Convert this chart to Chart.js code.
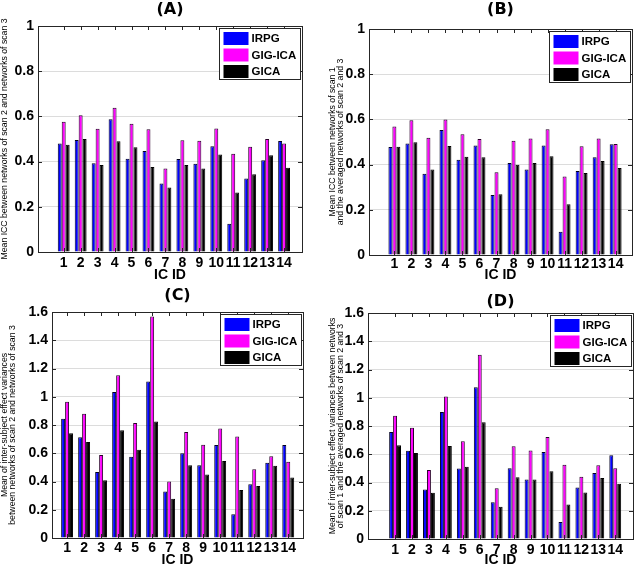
<!DOCTYPE html>
<html>
<head>
<meta charset="utf-8">
<script src="https://cdn.jsdelivr.net/npm/chart.js@4.4.1/dist/chart.umd.min.js"></script>
<style>
  body { margin: 0; background: #fff; }
  #wrap { position: relative; width: 635px; height: 569px; background: #fff; }
  #wrap canvas { position: absolute; }
</style>
</head>
<body>
<div id="wrap">
  <canvas id="chartA" width="317" height="284" style="left:0px;top:0px"></canvas>
  <canvas id="chartB" width="318" height="284" style="left:317px;top:0px"></canvas>
  <canvas id="chartC" width="317" height="285" style="left:0px;top:284px"></canvas>
  <canvas id="chartD" width="318" height="285" style="left:317px;top:284px"></canvas>
</div>
<script>
// IC IDs on the x axis
const icIds = [1, 2, 3, 4, 5, 6, 7, 8, 9, 10, 11, 12, 13, 14];
const seriesNames = ['IRPG', 'GIG-ICA', 'GICA'];

// y tick labels
const iccTicks = [0, 0.2, 0.4, 0.6, 0.8, 1];
const varTicks = [0, 0.2, 0.4, 0.6, 0.8, 1, 1.2, 1.4, 1.6];

// (A) mean ICC, scan 2 vs scan 3
const iccA_irpg   = [0.480, 0.496, 0.393, 0.587, 0.413, 0.447, 0.303, 0.412, 0.390, 0.468, 0.125, 0.325, 0.406, 0.491];
const iccA_gigica = [0.576, 0.605, 0.545, 0.638, 0.567, 0.543, 0.370, 0.494, 0.492, 0.546, 0.435, 0.466, 0.500, 0.480];
const iccA_gica   = [0.475, 0.500, 0.385, 0.490, 0.463, 0.376, 0.285, 0.385, 0.370, 0.431, 0.263, 0.344, 0.428, 0.373];

// (B) mean ICC, scan 1 vs averaged scan 2 and 3
const iccB_irpg   = [0.478, 0.493, 0.359, 0.553, 0.421, 0.484, 0.265, 0.407, 0.378, 0.484, 0.103, 0.372, 0.432, 0.490];
const iccB_gigica = [0.569, 0.596, 0.519, 0.600, 0.534, 0.513, 0.366, 0.506, 0.516, 0.556, 0.347, 0.481, 0.515, 0.491];
const iccB_gica   = [0.479, 0.499, 0.378, 0.482, 0.435, 0.432, 0.269, 0.399, 0.407, 0.437, 0.225, 0.363, 0.416, 0.385];

// (C) inter-subject effect variances, scan 2 vs scan 3
const varC_irpg   = [0.845, 0.713, 0.468, 1.033, 0.576, 1.108, 0.329, 0.600, 0.515, 0.659, 0.169, 0.381, 0.532, 0.659];
const varC_gigica = [0.965, 0.880, 0.588, 1.153, 0.814, 1.569, 0.400, 0.751, 0.661, 0.776, 0.718, 0.487, 0.579, 0.539];
const varC_gica   = [0.741, 0.680, 0.409, 0.762, 0.624, 0.824, 0.278, 0.515, 0.449, 0.546, 0.339, 0.369, 0.511, 0.428];

// (D) inter-subject effect variances, scan 1 vs averaged scan 2 and 3
const varD_irpg   = [0.758, 0.624, 0.351, 0.899, 0.499, 1.075, 0.261, 0.501, 0.421, 0.616, 0.120, 0.365, 0.468, 0.593];
const varD_gigica = [0.873, 0.788, 0.489, 1.009, 0.692, 1.304, 0.360, 0.656, 0.626, 0.722, 0.525, 0.440, 0.522, 0.501];
const varD_gica   = [0.664, 0.609, 0.327, 0.659, 0.511, 0.826, 0.228, 0.438, 0.421, 0.480, 0.245, 0.329, 0.431, 0.391];

const fillColors = ['#0000ff', '#ff00ff', '#000000'];
const edgeColors = ['#000022', '#2a002a', '#000000'];
const tickFont = { family: 'Liberation Sans', size: 14, weight: 'bold' };
const axisTitleFont = { family: 'Liberation Sans', size: 14, weight: 'bold' };
const frameColor = '#262626';

// matlab-ish box: frame, inward ticks, legend inside the axes
const boxPlugin = {
  id: 'matlabBox',
  afterDatasetsDraw(chart) {
    const { ctx, chartArea: a, scales: { x, y } } = chart;
    ctx.save();
    ctx.strokeStyle = frameColor;
    ctx.lineWidth = 1;
    ctx.beginPath();
    x.ticks.forEach(t => {
      const px = Math.round(x.getPixelForValue(t.value)) + 0.5;
      ctx.moveTo(px, a.bottom); ctx.lineTo(px, a.bottom - 4);
      ctx.moveTo(px, a.top); ctx.lineTo(px, a.top + 4);
    });
    y.ticks.forEach(t => {
      const py = Math.round(y.getPixelForValue(t.value)) + 0.5;
      ctx.moveTo(a.left, py); ctx.lineTo(a.left + 4, py);
      ctx.moveTo(a.right, py); ctx.lineTo(a.right - 4, py);
    });
    ctx.stroke();
    const L = Math.round(a.left) + 0.5, T = Math.round(a.top) + 0.5;
    ctx.strokeRect(L, T, Math.round(a.right) - Math.round(a.left), Math.round(a.bottom) - Math.round(a.top));

    // legend
    const w = 81, h = 51;
    const bx = Math.round(a.right) - 2 - w + 0.5, by = Math.round(a.top) + 2 + 0.5;
    ctx.fillStyle = '#fff';
    ctx.fillRect(bx, by, w, h);
    ctx.strokeRect(bx, by, w, h);
    ctx.font = 'bold 11.5px "Liberation Sans", Arial, sans-serif';
    ctx.textBaseline = 'middle';
    chart.data.datasets.forEach((ds, k) => {
      const cy = by + 10 + k * 16.5;
      ctx.fillStyle = ds.backgroundColor;
      ctx.fillRect(bx + 4, cy - 6.5, 25, 13);
      ctx.fillStyle = '#000';
      ctx.fillText(ds.label, bx + 32, cy + 0.5);
    });
    ctx.restore();
  }
};

function makePanel(canvasId, p, series, yTicks, yTitle) {
  return new Chart(document.getElementById(canvasId), {
    type: 'bar',
    data: {
      datasets: series.map((s, k) => ({
        label: seriesNames[k],
        data: icIds.map((id, i) => ({ x: id, y: s[i] })),
        backgroundColor: fillColors[k],
        borderColor: edgeColors[k],
        borderWidth: 1,
        categoryPercentage: 0.7,
        barPercentage: 1
      }))
    },
    options: {
      responsive: false,
      animation: false,
      devicePixelRatio: 1,
      layout: { padding: { left: 0, right: p.padRight, top: 0, bottom: 0 } },
      plugins: {
        legend: { display: false },
        tooltip: { enabled: false },
        title: {
          display: true, text: p.title, fullSize: false, color: '#000',
          font: { family: 'DejaVu Sans', size: 16, weight: 'bold' },
          padding: p.titlePad
        }
      },
      scales: {
        x: {
          type: 'linear', min: p.xMin, max: p.xMax,
          grid: { display: false, drawTicks: false }, border: { display: false },
          afterBuildTicks: s => { s.ticks = icIds.map(v => ({ value: v })); },
          afterFit: s => { s.height = p.xHeight; },
          ticks: { autoSkip: false, maxRotation: 0, minRotation: 0, padding: p.xTickPad, color: '#000', font: tickFont,
                   callback: v => String(v) },
          title: { display: true, text: 'IC ID', color: '#000', font: axisTitleFont, padding: 0 }
        },
        y: {
          min: 0, max: yTicks[yTicks.length - 1],
          grid: { color: '#dcdcdc', drawTicks: false }, border: { display: false },
          afterBuildTicks: s => { s.ticks = yTicks.map(v => ({ value: v })); },
          afterFit: s => { s.width = p.yWidth; },
          ticks: { padding: 4, color: '#000', font: tickFont, callback: v => String(+v.toFixed(1)) },
          title: {
            display: true, text: yTitle, color: '#000',
            font: { family: 'Liberation Sans', size: 8.7, lineHeight: 0.95 },
            padding: { top: p.yTitlePad, bottom: 0 }
          }
        }
      }
    },
    plugins: [boxPlugin]
  });
}

makePanel('chartA',
  { title: '(A)', padRight: 15, yWidth: 38, xHeight: 32, xTickPad: 3, titlePad: { top: 0, bottom: 6.8 }, yTitlePad: 0, xMin: 0.04, xMax: 14.5 },
  [iccA_irpg, iccA_gigica, iccA_gica], iccTicks,
  'Mean ICC between networks of scan 2 and networks of scan 3');

makePanel('chartB',
  { title: '(B)', padRight: 3, yWidth: 52, xHeight: 29, xTickPad: 1, titlePad: { top: 0, bottom: 9.8 }, yTitlePad: 11, xMin: 0.06, xMax: 14.41 },
  [iccB_irpg, iccB_gigica, iccB_gica], iccTicks,
  ['Mean ICC between networks of scan 1', 'and the averaged networks of scan 2 and 3']);

makePanel('chartC',
  { title: '(C)', padRight: 14, yWidth: 52, xHeight: 31, xTickPad: 2, titlePad: { top: 2.4, bottom: 6.4 }, yTitlePad: 0.5, xMin: 0.64, xMax: 14.34 },
  [varC_irpg, varC_gigica, varC_gica], varTicks,
  ['Mean of inter-subject effect variances', 'between networks of scan 2 and networks of scan 3']);

makePanel('chartD',
  { title: '(D)', padRight: 2, yWidth: 51, xHeight: 30, xTickPad: 3, titlePad: { top: 8.4, bottom: 1.4 }, yTitlePad: 11, xMin: -0.04, xMax: 14.49 },
  [varD_irpg, varD_gigica, varD_gica], varTicks,
  ['Mean of inter-subject effect variances between networks', 'of scan 1 and the averaged networks of scan 2 and 3']);
</script>
</body>
</html>
